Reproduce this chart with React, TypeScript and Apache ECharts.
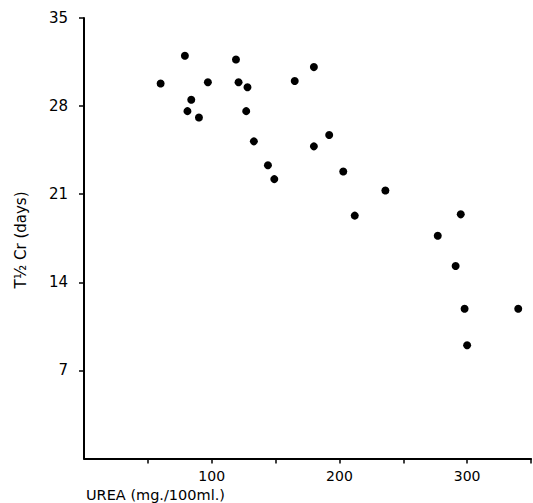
import React, { useEffect, useRef } from "react";
import * as echarts from "echarts";

const ureaValues = [60, 79, 84, 81, 90, 97, 119, 121, 128, 127, 133, 144, 149, 165, 180, 180, 192, 203, 236, 212, 295, 277, 291, 298, 340, 300];
const halfLifeValues = [29.8, 32.0, 28.5, 27.6, 27.1, 29.9, 31.7, 29.9, 29.5, 27.6, 25.2, 23.3, 22.2, 30.0, 31.1, 24.8, 25.7, 22.8, 21.3, 19.3, 19.4, 17.7, 15.3, 11.9, 11.9, 9.0];
const xTickValues = [50, 100, 150, 200, 250, 300, 350];
const xLabelValues = [100, 200, 300];
const yTickValues = [7, 14, 21, 28, 35];
const xTitle = "UREA (mg./100ml.)";
const yTitle = "T½ Cr (days)";

export default function App() {
  const ref = useRef<HTMLDivElement>(null);
  useEffect(() => {
    if (!ref.current) return;
    document.body.style.margin = "0";
    const chart = echarts.init(ref.current, null, { renderer: "svg" });
    const font = "DejaVu Sans";
    chart.setOption({
      animation: false,
      backgroundColor: "#ffffff",
      grid: { left: 84, right: 2, top: 18, bottom: 44.5, containLabel: false },
      xAxis: {
        type: "value",
        min: 0,
        max: 350,
        axisLine: { show: true, lineStyle: { color: "#000", width: 2 } },
        axisTick: { show: true, length: 5, lineStyle: { color: "#000", width: 1.5 }, customValues: xTickValues },
        axisLabel: { color: "#000", fontSize: 14, fontFamily: font, margin: 10, customValues: xLabelValues },
        splitLine: { show: false },
      },
      yAxis: {
        type: "value",
        min: 0,
        max: 35,
        axisLine: { show: true, lineStyle: { color: "#000", width: 2 } },
        axisTick: { show: true, length: 5, lineStyle: { color: "#000", width: 1.5 }, customValues: yTickValues },
        axisLabel: { color: "#000", fontSize: 15, fontFamily: font, margin: 16, customValues: yTickValues },
        splitLine: { show: false },
      },
      graphic: [
        {
          type: "text",
          left: 86,
          top: 487,
          style: { text: xTitle, fill: "#000", font: `14.5px "${font}"` },
        },
        {
          type: "text",
          x: 21,
          y: 240,
          rotation: Math.PI / 2,
          style: { text: yTitle, fill: "#000", font: `15px "${font}"`, align: "center", verticalAlign: "middle" },
        },
      ],
      series: [
        {
          type: "scatter",
          symbol: "circle",
          symbolSize: 8,
          itemStyle: { color: "#000", opacity: 1 },
          data: ureaValues.map((u, i) => [u, halfLifeValues[i]]),
        },
      ],
    });
    return () => chart.dispose();
  }, []);
  return <div ref={ref} style={{ width: 533, height: 503 }} />;
}
